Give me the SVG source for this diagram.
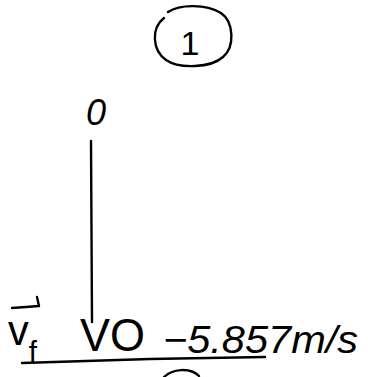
<svg xmlns="http://www.w3.org/2000/svg" width="368" height="377" viewBox="0 0 368 377">
<style>
.ink{fill:none;stroke:#000;stroke-width:2.4;stroke-linecap:round;stroke-linejoin:round}
.txt{font-family:"Liberation Sans",Arial,sans-serif;fill:#000}
</style>
<rect width="368" height="377" fill="#fff"/>
<g id="node-1">
<path class="ink" d="M168 12 C180 4 206 4 221 13 C234 22 235 47 223 57 C211 68 179 69 166 60 C152 50 151 28 164 18"/>
<text class="txt" x="190" y="55" font-size="34" font-weight="300" text-anchor="middle">1</text>
</g>
<g id="node-0">
<text class="txt" x="96" y="125" font-size="36" font-style="italic" text-anchor="middle">0</text>
</g>
<g id="connectors">
<path class="ink" d="M91 141 L92 322"/>
<path class="ink" d="M22 363 L150 359 L265 357"/>
<path class="ink" d="M12 308 L39 306 L37 297"/>
</g>
<g id="label-vf">
<text class="txt" x="8" y="345" font-size="42" textLength="29" lengthAdjust="spacingAndGlyphs">v<tspan dy="17" font-size="30">f</tspan></text>
</g>
<g id="label-vo">
<text class="txt" x="80" y="351" font-size="46" textLength="65" lengthAdjust="spacingAndGlyphs">VO</text>
</g>
<g id="label-value">
<text class="txt" x="163" y="353" font-size="38" font-style="italic" textLength="195" lengthAdjust="spacingAndGlyphs">−5.857m/s</text>
</g>
<g id="node-2">
<path class="ink" d="M164 377 C172 369 190 367 199 376"/>
</g>
</svg>
